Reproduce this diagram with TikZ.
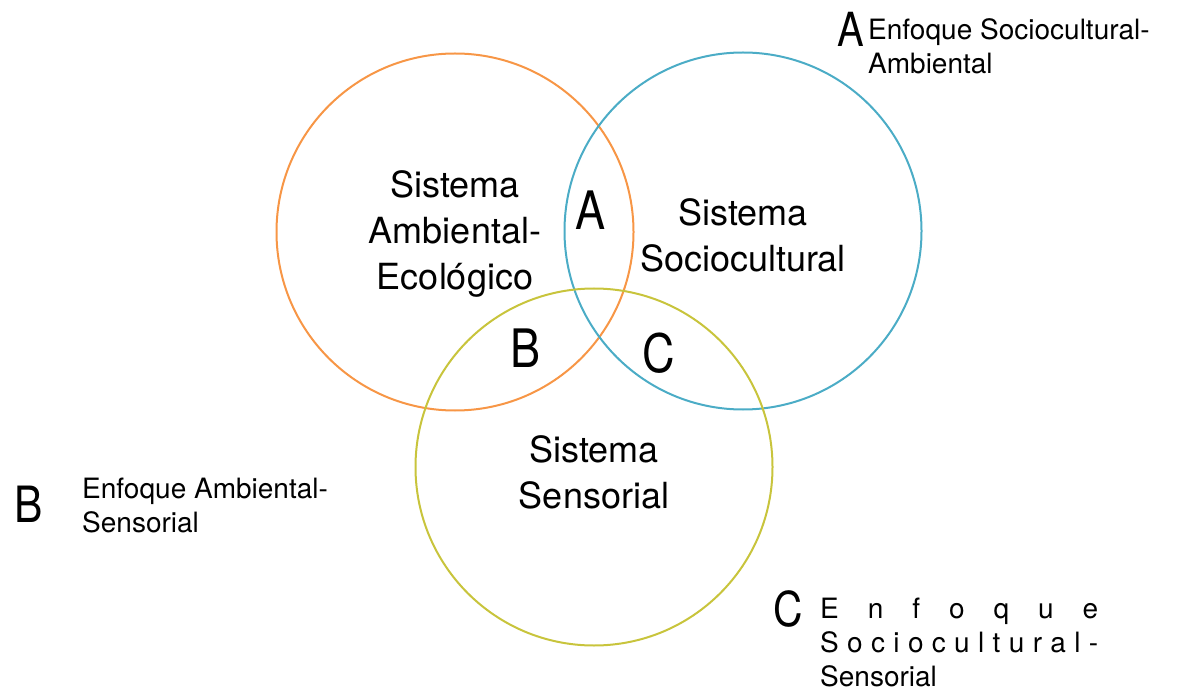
\documentclass[tikz,border=0pt]{standalone}
\usepackage{fontspec}
\usepackage{graphicx}
\setmainfont{TeX Gyre Heros}
\definecolor{ambcol}{HTML}{F79646}
\definecolor{soccol}{HTML}{4BACC6}
\definecolor{sencol}{HTML}{C8C43C}
\newcommand{\bigletter}[2]{\fontsize{#1}{#1}\selectfont\scalebox{0.85}[1]{#2}}
\begin{document}
\begin{tikzpicture}[x=1pt,y=-1pt,
    system/.style={circle,draw,line width=2pt,minimum size=357pt,inner sep=0pt},
    syslabel/.style={align=center,font=\fontsize{36}{46}\selectfont},
    zone/.style={inner sep=0pt},
    legend/.style={anchor=north west,inner sep=0pt,align=left,font=\fontsize{28}{34}\selectfont}]
\useasboundingbox (0,0) rectangle (1177,692);
% Circulos de los sistemas
\node[system,ambcol] (amb) at (455,232) {};
\node[system,soccol] (soc) at (743,231) {};
\node[system,sencol] (sen) at (594,467) {};

% Nombres de los sistemas
\node[syslabel] (ambtxt) at (455,234) {Sistema\\Ambiental-\\Ecológico};
\node[syslabel] (soctxt) at (743,235) {Sistema\\Sociocultural};
\node[syslabel] (sentxt) at (594,472) {Sistema\\Sensorial};

% Intersecciones
\node[zone] (zA) at (591,210) {\bigletter{53}{A}};
\node[zone] (zB) at (526,348) {\bigletter{53}{B}};
\node[zone] (zC) at (659,353) {\bigletter{53}{C}};

% Leyenda
\node[zone] (legA) at (851,29) {\bigletter{47}{A}};
\node[legend] (legAtxt) at (868,18) {Enfoque Sociocultural-\\Ambiental};
\node[zone] (legB) at (29,504) {\bigletter{50}{B}};
\node[legend] (legBtxt) at (82,478) {Enfoque Ambiental-\\Sensorial};
\node[zone] (legC) at (788,609) {\bigletter{48}{C}};
\node[legend] (legCtxt) at (820,598) {%
  \makebox[278pt][s]{E\hfill n\hfill f\hfill o\hfill q\hfill u\hfill e}\\
  \makebox[278pt][s]{S\hfill o\hfill c\hfill i\hfill o\hfill c\hfill u\hfill l\hfill t\hfill u\hfill r\hfill a\hfill l\hfill -}\\
  Sensorial};
\end{tikzpicture}
\end{document}
